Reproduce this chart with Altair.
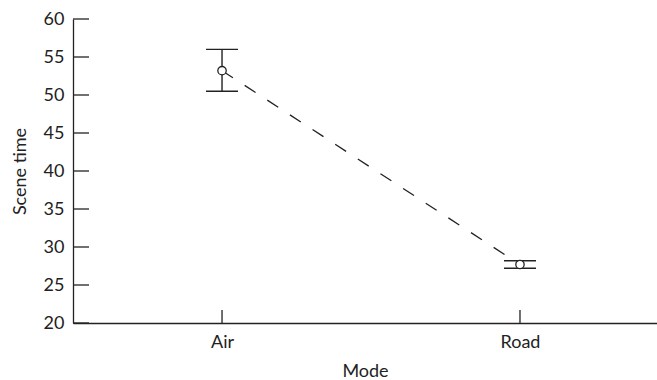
import altair as alt
import pandas as pd

modes = ["Air", "Road"]
means = [53.2, 27.7]
lower = [50.5, 27.2]
upper = [56.0, 28.2]
y_tick_values = [20, 25, 30, 35, 40, 45, 50, 55, 60]

W, H = 584, 304
INK = "#222222"
FONT = "Lato"
FS = 18

df = pd.DataFrame({"mode": modes, "mean": means, "lower": lower, "upper": upper})
ticks_df = pd.DataFrame({"tick": y_tick_values})
modes_df = pd.DataFrame({"mode": modes})

x_scale = alt.Scale(type="point", domain=modes, padding=0.48, align=0.521)
y_scale = alt.Scale(domain=[20, 60], nice=False, zero=False)

x_axis = alt.Axis(title="Mode", labelAngle=0, ticks=False, labelPadding=10,
                  titlePadding=11, domainColor=INK, domainWidth=1.3, grid=False)
y_axis = alt.Axis(title="Scene time", values=y_tick_values, ticks=False, labelPadding=9,
                  titlePadding=14, domainColor=INK, domainWidth=1.3, grid=False)


def X(field="mode"):
    return alt.X(f"{field}:N", scale=x_scale, axis=x_axis, sort=modes)


def Y(field):
    return alt.Y(f"{field}:Q", scale=y_scale, axis=y_axis)


base = alt.Chart(df)

line = base.mark_line(color=INK, strokeWidth=1.3, strokeDash=[13, 14]).encode(
    x=X(), y=Y("mean"))

bars = base.mark_rule(color=INK, strokeWidth=1.4).encode(
    x=X(), y=Y("lower"), y2="upper:Q")

caps = base.transform_fold(["lower", "upper"], as_=["which", "val"]).mark_tick(
    color=INK, orient="horizontal", size=32, thickness=1.4, opacity=1).encode(
    x=X(), y=Y("val"))

points = base.mark_point(shape="circle", filled=True, fill="white", stroke=INK,
                         strokeWidth=1.3, size=70, opacity=1).encode(
    x=X(), y=Y("mean"))

yticks = alt.Chart(ticks_df).mark_rule(color=INK, strokeWidth=1.3).encode(
    y=Y("tick"), x=alt.value(0), x2=alt.value(16))

xticks = alt.Chart(modes_df).mark_rule(color=INK, strokeWidth=1.3).encode(
    x=X(), y=alt.value(H), y2=alt.value(H - 13))

chart = alt.layer(line, bars, caps, points, yticks, xticks).properties(
    width=W, height=H,
    background="white",
    autosize=alt.AutoSizeParams(type="none"),
    padding={"left": 73, "top": 19, "right": 0, "bottom": 57},
).configure_view(stroke=None).configure_axis(
    labelFont=FONT, titleFont=FONT, labelFontSize=FS, titleFontSize=FS,
    labelColor=INK, titleColor=INK, titleFontWeight="normal",
)

chart.save("out.html", embed_options={"renderer": "svg", "actions": False})
